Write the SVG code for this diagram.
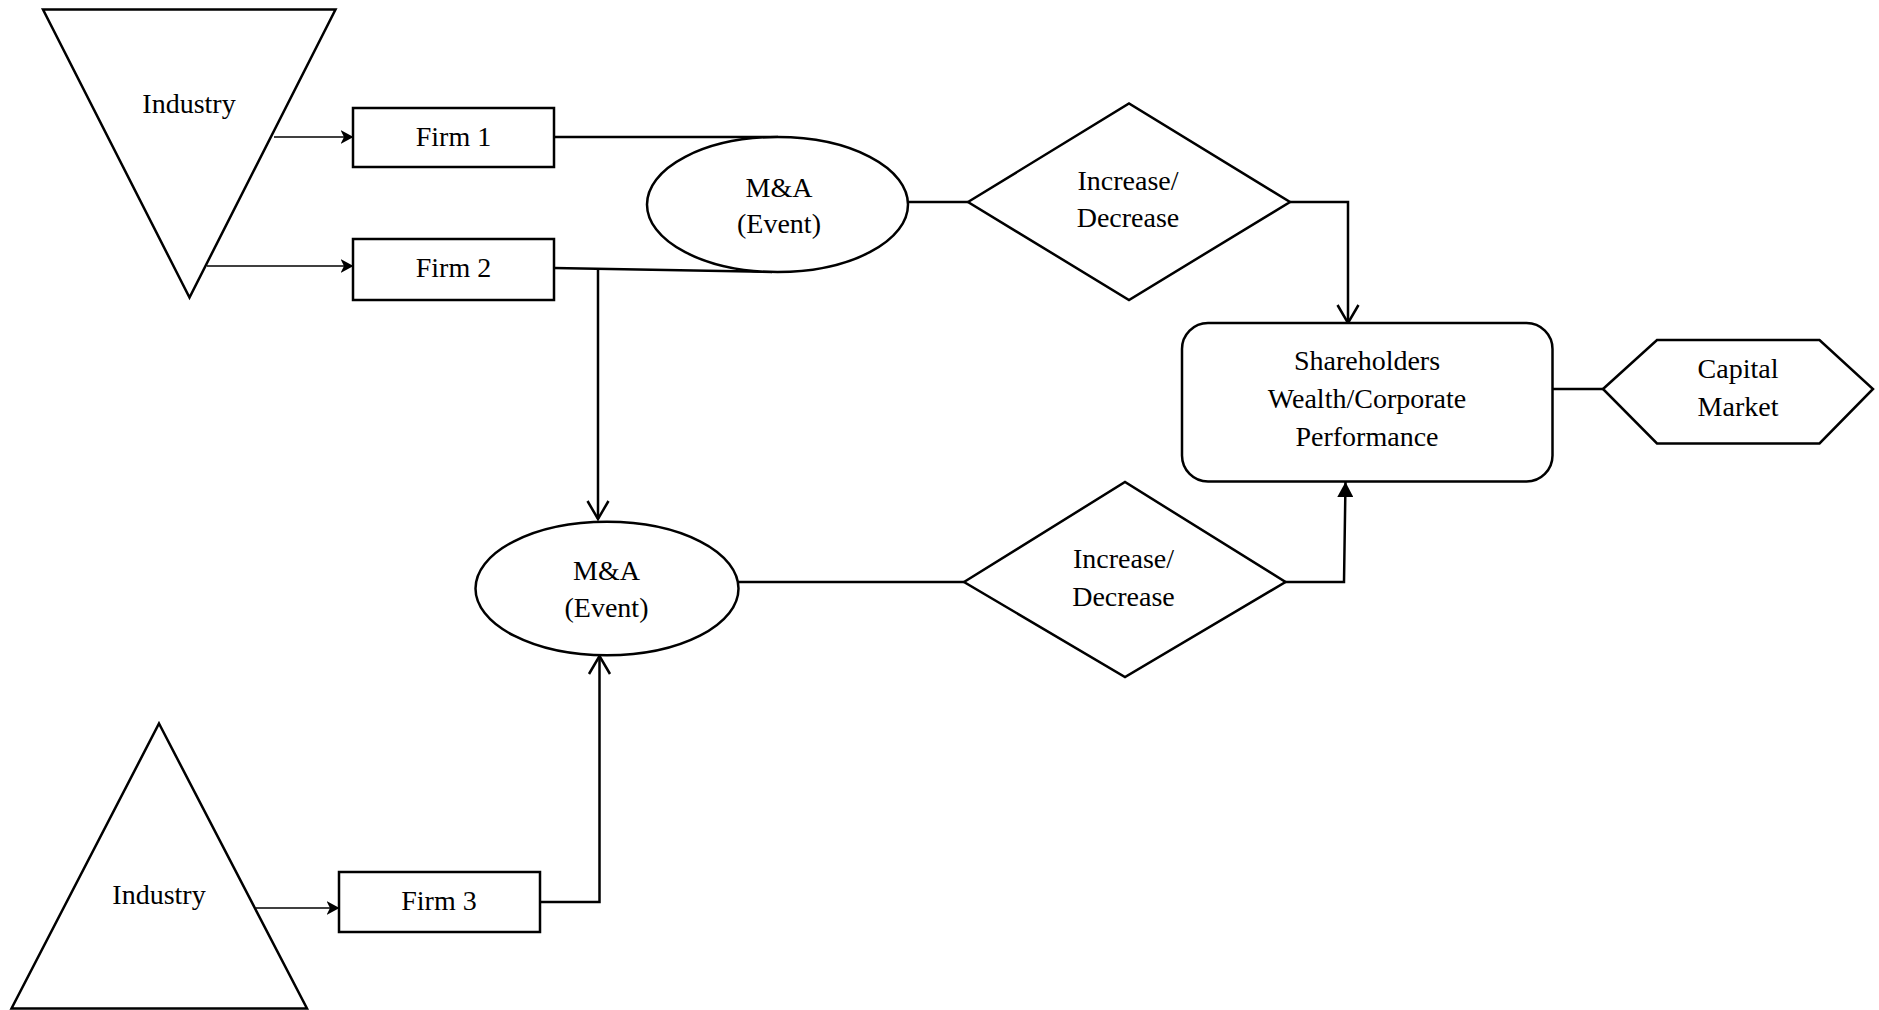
<svg xmlns="http://www.w3.org/2000/svg" width="1879" height="1010" viewBox="0 0 1879 1010">
  <style>
    .shape { fill: #ffffff; stroke: #000000; stroke-width: 2.5; }
    .label { font-family: "Liberation Serif", "Times New Roman", serif; font-size: 28px; fill: #000000; text-anchor: middle; }
    .link { fill: none; stroke: #000000; stroke-width: 2.5; }
    .feed { fill: none; stroke: #000000; stroke-width: 1.6; }
  </style>
  <defs>
    <!-- concave filled head for the industry-to-firm links -->
    <marker id="classic" viewBox="0 0 13 14" refX="12.5" refY="7" markerWidth="13" markerHeight="14" markerUnits="userSpaceOnUse" orient="auto">
      <path d="M0,0 L13,7 L0,14 L3.5,7 Z" fill="#000000"/>
    </marker>
    <!-- open V head -->
    <marker id="openV" viewBox="-2 -2 24 25" refX="18.5" refY="10.5" markerWidth="24" markerHeight="25" markerUnits="userSpaceOnUse" orient="auto" overflow="visible">
      <path d="M0.5,0 L18.5,10.5 L0.5,21" fill="none" stroke="#000000" stroke-width="2.5"/>
    </marker>
    <!-- solid triangular head -->
    <marker id="solid" viewBox="0 0 15 16" refX="15" refY="8" markerWidth="15" markerHeight="16" markerUnits="userSpaceOnUse" orient="auto">
      <path d="M0,0 L15,8 L0,16 Z" fill="#000000"/>
    </marker>
  </defs>

  <rect width="1879" height="1010" fill="#ffffff"/>

  <g id="connectors">
    <line class="feed" x1="274" y1="137" x2="353" y2="137" marker-end="url(#classic)"/>
    <line class="feed" x1="207" y1="266" x2="353" y2="266" marker-end="url(#classic)"/>
    <line class="feed" x1="256" y1="908" x2="339" y2="908" marker-end="url(#classic)"/>
    <line class="link" x1="554" y1="137" x2="778" y2="137"/>
    <line class="link" x1="554" y1="268" x2="772" y2="272"/>
    <path class="link" d="M598,268 V519" marker-end="url(#openV)"/>
    <path class="link" d="M540,902 H599.5 V656" marker-end="url(#openV)"/>
    <line class="link" x1="908" y1="202" x2="968" y2="202"/>
    <path class="link" d="M1290,202 H1348 V323" marker-end="url(#openV)"/>
    <line class="link" x1="738" y1="582" x2="964" y2="582"/>
    <path class="link" d="M1285,582 H1344 L1345.5,482" marker-end="url(#solid)"/>
    <line class="link" x1="1552" y1="389" x2="1603" y2="389"/>
  </g>

  <g id="industry-top">
    <polygon class="shape" points="43,9.5 335.5,9.5 189.5,297.5"/>
    <text class="label" x="189" y="113">Industry</text>
  </g>

  <g id="firm-1">
    <rect class="shape" x="353" y="108" width="201" height="59"/>
    <text class="label" x="453.5" y="146">Firm 1</text>
  </g>

  <g id="firm-2">
    <rect class="shape" x="353" y="239" width="201" height="61"/>
    <text class="label" x="453.5" y="277">Firm 2</text>
  </g>

  <g id="ma-event-1">
    <ellipse class="shape" cx="777.5" cy="204.5" rx="130.5" ry="67.5"/>
    <text class="label" x="779" y="197">M&amp;A</text>
    <text class="label" x="779" y="233">(Event)</text>
  </g>

  <g id="change-1">
    <polygon class="shape" points="968,202 1129,103.5 1290,202 1129,300"/>
    <text class="label" x="1128" y="190">Increase/</text>
    <text class="label" x="1128" y="227">Decrease</text>
  </g>

  <g id="shareholders">
    <rect class="shape" x="1182" y="323" width="370.5" height="158.5" rx="26" ry="26"/>
    <text class="label" x="1367" y="370">Shareholders</text>
    <text class="label" x="1367" y="408">Wealth/Corporate</text>
    <text class="label" x="1367" y="446">Performance</text>
  </g>

  <g id="capital-market">
    <polygon class="shape" points="1603,389 1657,340 1819.5,340 1873,389 1819.5,443.5 1657,443.5"/>
    <text class="label" x="1738" y="378">Capital</text>
    <text class="label" x="1738" y="416">Market</text>
  </g>

  <g id="ma-event-2">
    <ellipse class="shape" cx="607" cy="588.5" rx="131.5" ry="66.8"/>
    <text class="label" x="606.5" y="580">M&amp;A</text>
    <text class="label" x="606.5" y="617">(Event)</text>
  </g>

  <g id="change-2">
    <polygon class="shape" points="964,582 1125,482 1285.5,582 1125,677"/>
    <text class="label" x="1123.5" y="568">Increase/</text>
    <text class="label" x="1123.5" y="606">Decrease</text>
  </g>

  <g id="industry-bottom">
    <polygon class="shape" points="159,723.5 307,1008.5 11.5,1008.5"/>
    <text class="label" x="159" y="904">Industry</text>
  </g>

  <g id="firm-3">
    <rect class="shape" x="339" y="872" width="201" height="60"/>
    <text class="label" x="439" y="910">Firm 3</text>
  </g>
</svg>
